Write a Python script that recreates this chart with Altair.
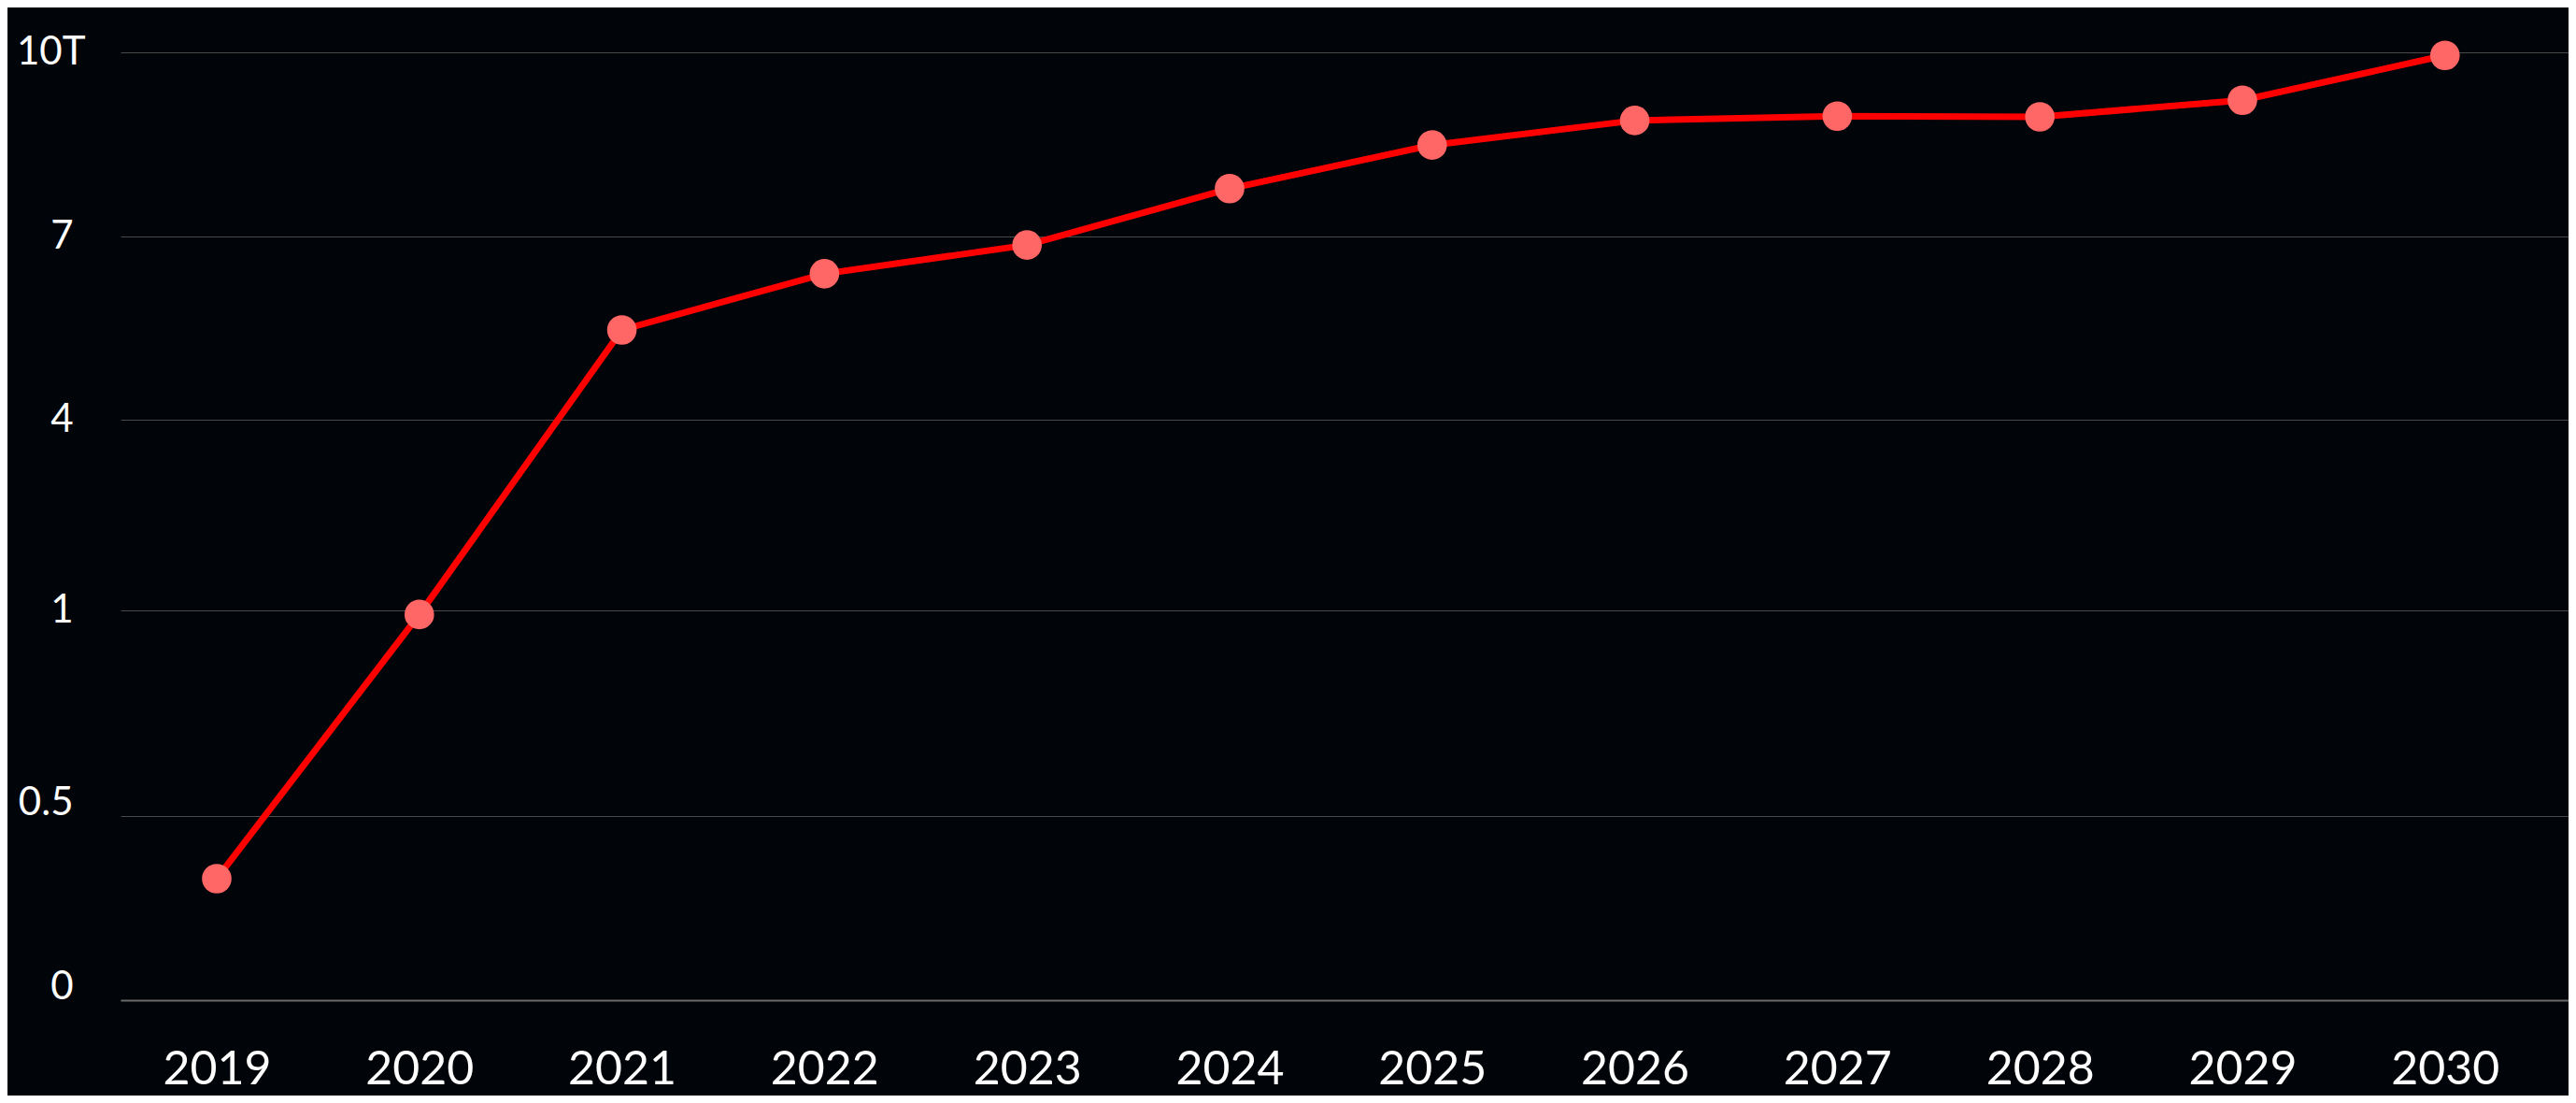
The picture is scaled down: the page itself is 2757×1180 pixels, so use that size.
import altair as alt
import pandas as pd

years = [2019, 2020, 2021, 2022, 2023, 2024, 2025, 2026, 2027, 2028, 2029, 2030]
values = [0.33, 0.99, 5.47, 6.39, 6.86, 7.78, 8.49, 8.89, 8.96, 8.95, 9.22, 9.95]
y_ticks = [0, 0.5, 1, 4, 7, 10]
y_range = [1014, 817, 597, 393, 197, 0]

df = pd.DataFrame({"year": years, "value": values})

x = alt.X(
    "year:Q",
    scale=alt.Scale(domain=[2018.525, 2030.61], nice=False, zero=False),
    axis=alt.Axis(
        values=years, format="d", title=None, grid=False, ticks=False, tickSize=0,
        domain=True, domainColor="#6a6a6a", domainWidth=2,
        labelFont="Lato", labelFontSize=50, labelColor="#ffffff",
        labelBaseline="alphabetic", labelPadding=89, labelFlush=False,
        labelOverlap=False,
    ),
)
y = alt.Y(
    "value:Q",
    scale=alt.Scale(domain=y_ticks, range=y_range, nice=False, zero=False, clamp=False),
    axis=alt.Axis(
        values=y_ticks, title=None, grid=True, gridColor="#4a4a4a", gridWidth=1.2,
        ticks=False, tickSize=0, domain=False,
        labelFont="Lato", labelFontSize=42, labelColor="#ffffff",
        labelAlign="right", labelBaseline="alphabetic",
        labelPadding={"expr": "datum.value == 10 ? 38 : 51"},
        labelOffset={"expr": "datum.value < 1 ? -2 : 12"},
        labelExpr="datum.value == 10 ? '10T' : datum.label",
        format="~g", labelFlush=False, labelOverlap=False,
    ),
)

base = alt.Chart(df)
line = base.mark_line(color="#ff0000", strokeWidth=7).encode(x=x, y=y)
pts = base.mark_circle(color="#ff6666", size=1000, opacity=1).encode(x=x, y=y)

chart = (
    alt.layer(line, pts)
    .properties(
        width=2620,
        height=1014,
        autosize=alt.AutoSizeParams(type="none"),
        padding={"left": 121, "top": 48, "right": 0, "bottom": 102},
        background="#010408",
    )
    .configure_view(stroke=None)
)

chart.save("out.html", embed_options={"renderer": "svg", "actions": False})
